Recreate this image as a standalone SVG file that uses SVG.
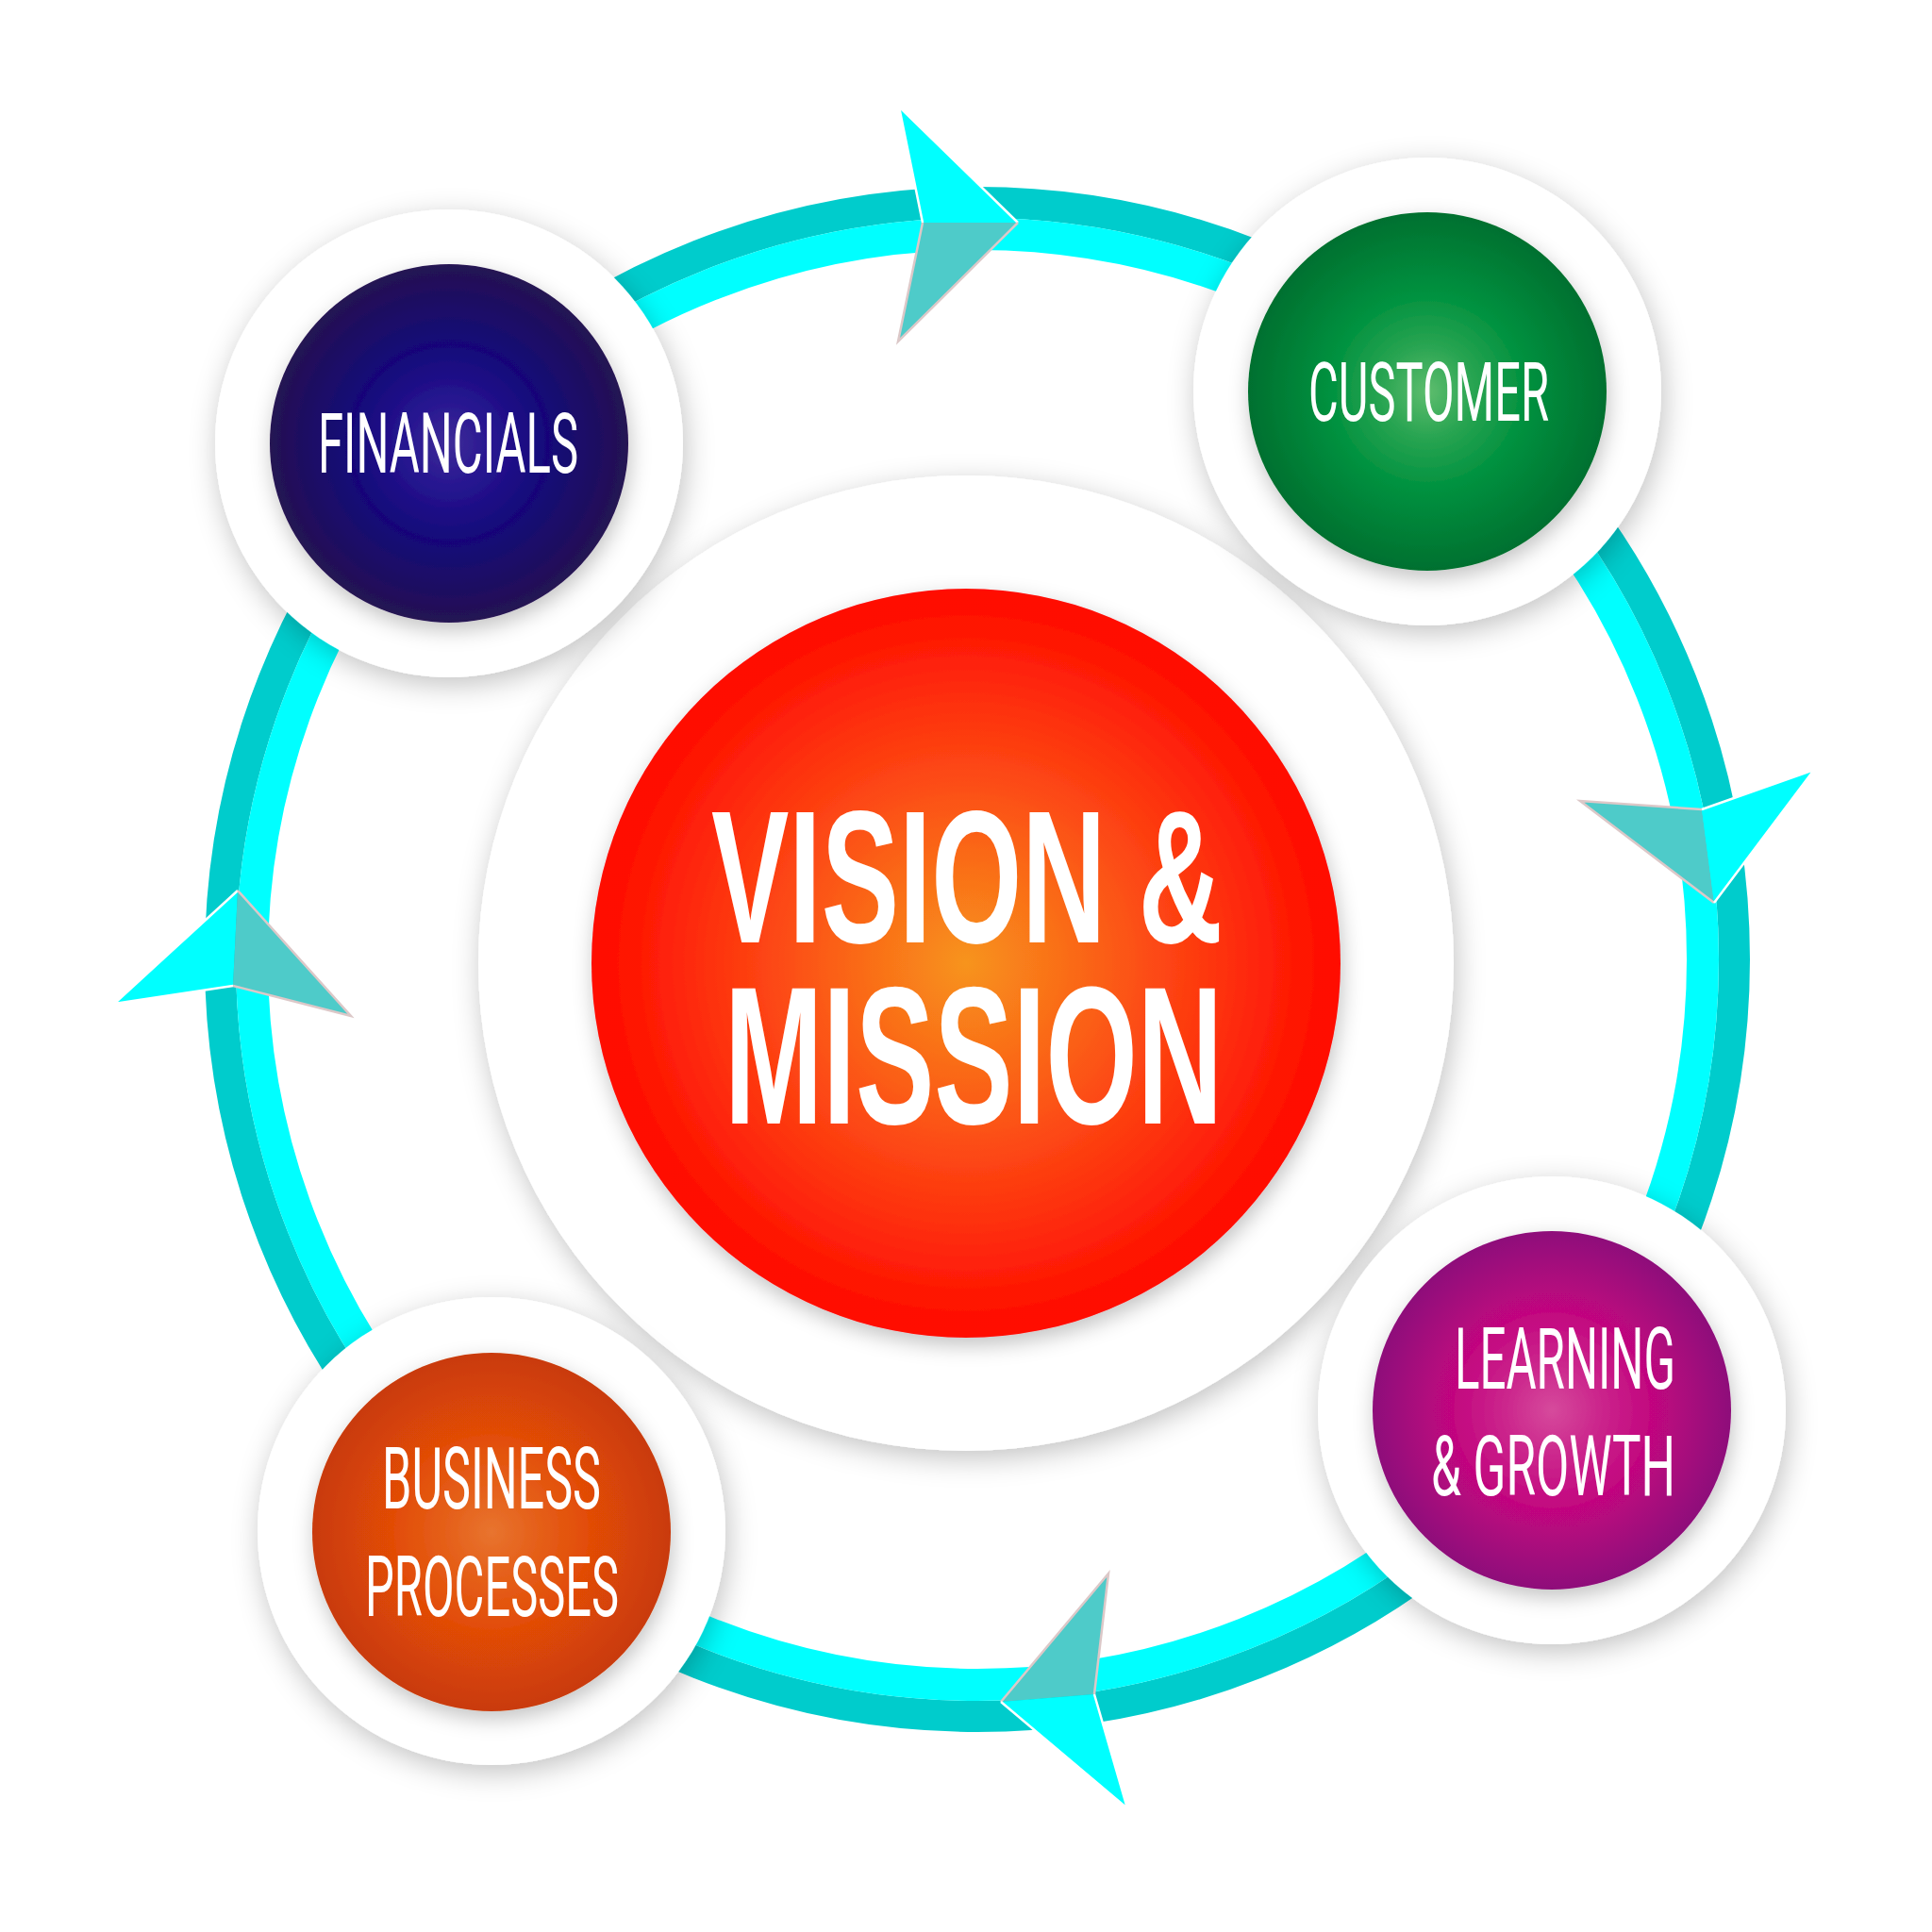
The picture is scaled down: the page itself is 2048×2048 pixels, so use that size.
<svg xmlns="http://www.w3.org/2000/svg" width="2048" height="2048" viewBox="0 0 2048 2048">
<defs>
<filter id="sh" x="-25%" y="-25%" width="150%" height="150%"><feDropShadow dx="3" dy="8" stdDeviation="15" flood-color="#000" flood-opacity="0.24"/></filter>
<filter id="sh2" x="-25%" y="-25%" width="150%" height="150%"><feDropShadow dx="2" dy="8" stdDeviation="11" flood-color="#000" flood-opacity="0.24"/></filter>
<radialGradient id="gRed"><stop offset="0" stop-color="#f7941d"/><stop offset="0.55" stop-color="#fd4312"/><stop offset="1" stop-color="#ff0800"/></radialGradient>
<radialGradient id="gBlue"><stop offset="0" stop-color="#3e2c98"/><stop offset="0.25" stop-color="#261590"/><stop offset="0.55" stop-color="#140679"/><stop offset="1" stop-color="#251352"/></radialGradient>
<radialGradient id="gGreen"><stop offset="0" stop-color="#5ebd6e"/><stop offset="0.25" stop-color="#2aa552"/><stop offset="0.55" stop-color="#00913f"/><stop offset="1" stop-color="#00702f"/></radialGradient>
<radialGradient id="gPurple"><stop offset="0" stop-color="#d64a9c"/><stop offset="0.25" stop-color="#cc288d"/><stop offset="0.55" stop-color="#c2067f"/><stop offset="1" stop-color="#8e0a7a"/></radialGradient>
<radialGradient id="gOrange"><stop offset="0" stop-color="#e8742f"/><stop offset="0.25" stop-color="#e5601a"/><stop offset="0.55" stop-color="#e24c06"/><stop offset="1" stop-color="#c93a08"/></radialGradient>
</defs>
<style>
.cy{fill:#00ffff}
.tl{fill:#4ecbc9}
.wl{stroke:#ffffff;stroke-width:2.5;fill:none}
.pl{stroke:#dcc8c8;stroke-width:2.5;fill:none}
.disc{fill:#ffffff}
.lab{font-family:Roboto,"Liberation Sans",sans-serif;font-weight:400;fill:#ffffff}
.big{font-family:"Liberation Sans",Arial,sans-serif;font-weight:700;fill:#ffffff}
</style>
<rect width="2048" height="2048" fill="#ffffff"/>
<g id="connectors">
<circle cx="1036" cy="1017" r="802.5" fill="none" stroke="#00cccc" stroke-width="33"/>
<circle cx="1036" cy="1017" r="769" fill="none" stroke="#00ffff" stroke-width="34"/>
<g id="arrow-top">
<polygon class="cy" points="953,113 1079,236 978,236"/>
<polygon class="tl" points="978,236 1079,236 952,362"/>
<polyline class="wl" points="978,236 953,113 1079,236"/>
<polyline class="pl" points="978,236 952,362 1079,236"/>
</g>
<g id="arrow-right">
<polygon class="tl" points="1675,849 1804,858 1817,957"/>
<polygon class="cy" points="1804,858 1923,816 1817,957"/>
<polyline class="pl" points="1804,858 1675,849 1817,957"/>
<polyline class="wl" points="1804,858 1923,816 1817,957"/>
</g>
<g id="arrow-bottom">
<polygon class="tl" points="1175,1668 1061,1804 1160,1796"/>
<polygon class="cy" points="1061,1804 1160,1796 1195,1917"/>
<polyline class="pl" points="1061,1804 1175,1668 1160,1796"/>
<polyline class="wl" points="1061,1804 1195,1917 1160,1796"/>
</g>
<g id="arrow-left">
<polygon class="cy" points="252,944 121,1064 247,1045"/>
<polygon class="tl" points="252,944 247,1045 372,1077"/>
<polyline class="wl" points="252,944 121,1064 247,1045"/>
<polyline class="pl" points="252,944 372,1077 247,1045"/>
</g>
</g>
<g id="vision-mission">
<circle class="disc" cx="1024" cy="1021" r="517" filter="url(#sh)"/>
<circle cx="1024" cy="1021" r="397" fill="url(#gRed)" filter="url(#sh2)"/>
<text class="big" x="754" y="999" font-size="201" textLength="542" lengthAdjust="spacingAndGlyphs">VISION &amp;</text>
<text class="big" x="768" y="1191" font-size="208" textLength="528" lengthAdjust="spacingAndGlyphs">MISSION</text>
</g>
<g id="financials">
<circle class="disc" cx="476" cy="470" r="248" filter="url(#sh)"/>
<circle cx="476" cy="470" r="190" fill="url(#gBlue)" filter="url(#sh2)"/>
<text class="lab" x="337" y="501" font-size="89" textLength="276" lengthAdjust="spacingAndGlyphs">FINANCIALS</text>
</g>
<g id="customer">
<circle class="disc" cx="1513" cy="415" r="248" filter="url(#sh)"/>
<circle cx="1513" cy="415" r="190" fill="url(#gGreen)" filter="url(#sh2)"/>
<text class="lab" x="1387" y="446" font-size="87" textLength="255" lengthAdjust="spacingAndGlyphs">CUSTOMER</text>
</g>
<g id="learning-growth">
<circle class="disc" cx="1645" cy="1495" r="248" filter="url(#sh)"/>
<circle cx="1645" cy="1495" r="190" fill="url(#gPurple)" filter="url(#sh2)"/>
<text class="lab" x="1542" y="1472" font-size="91" textLength="234" lengthAdjust="spacingAndGlyphs">LEARNING</text>
<text class="lab" x="1517" y="1585" font-size="89" textLength="259" lengthAdjust="spacingAndGlyphs">&amp; GROWTH</text>
</g>
<g id="business-processes">
<circle class="disc" cx="521" cy="1623" r="248" filter="url(#sh)"/>
<circle cx="521" cy="1624" r="190" fill="url(#gOrange)" filter="url(#sh2)"/>
<text class="lab" x="405" y="1599" font-size="90" textLength="232" lengthAdjust="spacingAndGlyphs">BUSINESS</text>
<text class="lab" x="387" y="1713" font-size="89" textLength="269" lengthAdjust="spacingAndGlyphs">PROCESSES</text>
</g>
</svg>
